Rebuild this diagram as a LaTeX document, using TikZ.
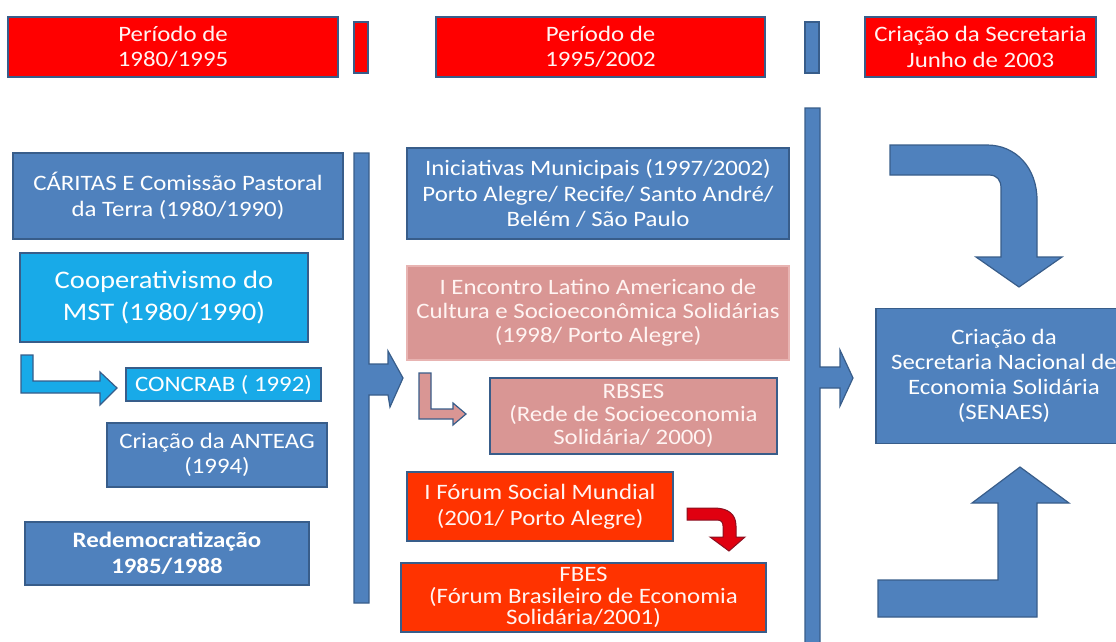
\documentclass[tikz,border=0pt]{standalone}
\usepackage{fontspec}
\setmainfont{Carlito}[FakeStretch=1.13]
\definecolor{topred}{HTML}{FF0000}
\definecolor{mblue}{HTML}{4F81BD}
\definecolor{bord}{HTML}{385D8A}
\definecolor{lblue}{HTML}{18AAE8}
\definecolor{mpink}{HTML}{D99694}
\definecolor{pinkbord}{HTML}{E8B4B2}
\definecolor{ored}{HTML}{FF3300}
\definecolor{arred}{HTML}{E00010}
\definecolor{arredb}{HTML}{8A1020}
\definecolor{softwhite}{HTML}{FFF4F2}
\tikzset{
  box/.style={draw=bord, line width=1.2pt, text=white, align=center, inner sep=0pt,
    font=\fontsize{22}{25.5}\selectfont},
  redbox/.style={box, fill=topred, text=softwhite},
  bluebox/.style={box, fill=mblue},
  lbbox/.style={box, fill=lblue},
  pinkbox/.style={box, fill=mpink, text=softwhite},
  orbox/.style={box, fill=ored, text=softwhite},
  sz/.style 2 args={minimum width=#1pt, minimum height=#2pt},
  blockarrow/.style={draw=bord, line width=1.2pt, line join=miter}
}
\begin{document}
\begin{tikzpicture}[x=1pt,y=-1pt]
\useasboundingbox (0,0) rectangle (1116,641);
\clip (0,0) rectangle (1116,641);

% top row
\node[redbox, sz={330}{60}] (p1) at (173,47) {Período de\\1980/1995};
\node[redbox, sz={14}{51}] (rbar) at (361,47.5) {};
\node[redbox, sz={329}{60}] (p2) at (600.5,47) {Período de\\1995/2002};
\node[bluebox, sz={14}{51}] (bbar) at (812,47.5) {};
\node[redbox, sz={231}{60}] (p3) at (980.5,47) {Criação da Secretaria\\Junho de 2003};

% left column
\node[bluebox, sz={330}{86}] (caritas) at (178,196) {CÁRITAS E Comissão Pastoral\\da Terra (1980/1990)};
\node[lbbox, sz={288}{89}, font=\fontsize{25.3}{32}\selectfont] (coop) at (164,297.5) {Cooperativismo do\\MST (1980/1990)};
\node[lbbox, sz={195}{33}] (concrab) at (223.5,384.5) {CONCRAB ( 1992)};
\node[bluebox, sz={220}{64}] (anteag) at (217,455) {Criação da ANTEAG\\(1994)};
\node[bluebox, sz={284}{63}, font=\fontsize{22}{25.5}\selectfont\bfseries] (redemo) at (167,553.5) {Redemocratização\\1985/1988};

% left bracket with arrow
\path[blockarrow, fill=mblue] (354,153) -- (369,153) -- (369,364) -- (388,364) -- (388,351)
  -- (403,378) -- (390,407) -- (388,395) -- (369,395) -- (369,603) -- (354,603) -- cycle;

% blue L arrow to CONCRAB
\path[blockarrow, fill=lblue] (21,355) -- (33,355) -- (33,381) -- (100,381) -- (100,372)
  -- (117,388) -- (100,405) -- (100,393) -- (21,393) -- cycle;

% middle column
\node[bluebox, sz={382}{91}] (inic) at (598,193.5) {Iniciativas Municipais (1997/2002)\\Porto Alegre/ Recife/ Santo André/\\Belém / São Paulo};
\node[pinkbox, draw=pinkbord, sz={382}{94}, font=\fontsize{22}{24}\selectfont] (encontro) at (598,313) {I Encontro Latino Americano de\\Cultura e Socioeconômica Solidárias\\(1998/ Porto Alegre)};
\node[pinkbox, sz={287}{76}, font=\fontsize{22}{23}\selectfont] (rbses) at (633.5,416) {RBSES\\(Rede de Socioeconomia\\Solidária/ 2000)};
\node[orbox, sz={266}{69}] (forum) at (540,506.5) {I Fórum Social Mundial\\(2001/ Porto Alegre)};
\node[orbox, sz={365}{69}, font=\fontsize{22}{21.5}\selectfont] (fbes) at (583.5,597.5) {FBES\\(Fórum Brasileiro de Economia\\Solidária/2001)};

% pink L arrow
\path[blockarrow, fill=mpink] (419,373) -- (431,373) -- (431,409) -- (453,409) -- (453,403)
  -- (466,414) -- (453,425) -- (453,419) -- (419,419) -- cycle;

% red bent arrow
\path[draw=arredb, line width=1pt, fill=arred] (687,508) -- (714,508)
  .. controls (728,508) and (736,514) .. (736,526) -- (736,537) -- (745,537) -- (729,551)
  -- (710,537) -- (723,537) -- (723,526) .. controls (723,522) and (721,520) .. (717,520)
  -- (687,520) -- cycle;

% right bar with arrow
\path[blockarrow, fill=mblue] (805,108) -- (820,108) -- (820,367) -- (840,367) -- (840,350)
  -- (853,378) -- (840,406) -- (840,388) -- (820,388) -- (820,648) -- (805,648) -- cycle;

% SENAES
\node[bluebox, sz={256}{135}, font=\fontsize{22}{25}\selectfont] (senaes) at (1004,376) {Criação da\\Secretaria Nacional de\\Economia Solidária\\(SENAES)};

% upper bent arrow
\path[blockarrow, fill=mblue] (890,145) -- (987,145)
  .. controls (1016,145) and (1037,168) .. (1037,200) -- (1037,257) -- (1062,257)
  -- (1019,287) -- (976,257) -- (1001,257) -- (1001,188)
  .. controls (1001,180) and (997,175) .. (989,175) -- (890,175) -- cycle;

% lower bent arrow
\path[blockarrow, fill=mblue] (878,580) -- (998,580) -- (998,503) -- (972,503) -- (1020,467)
  -- (1069,503) -- (1037,503) -- (1037,617) -- (878,617) -- cycle;
\end{tikzpicture}
\end{document}
